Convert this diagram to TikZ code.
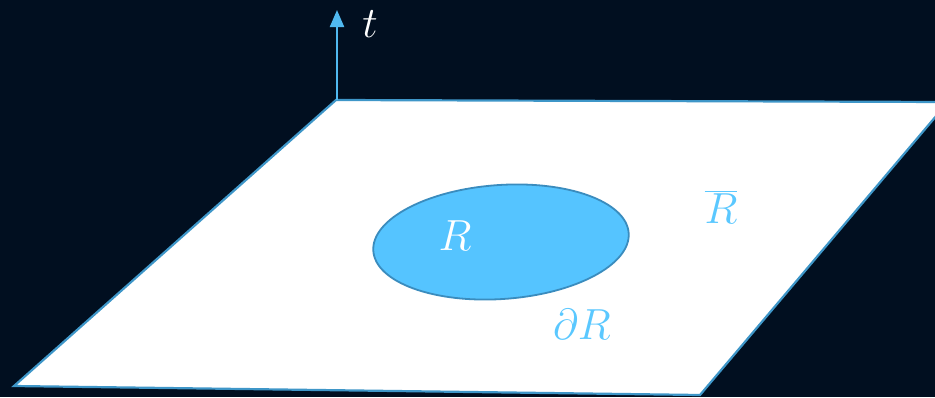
\documentclass[tikz,border=0pt]{standalone}
\usepackage{graphicx}
\usetikzlibrary{arrows.meta}
\definecolor{bgnavy}{RGB}{1,15,32}
\definecolor{edgeblue}{RGB}{62,150,200}
\definecolor{regfill}{RGB}{85,196,255}
\definecolor{regline}{RGB}{58,140,190}
\definecolor{axisblue}{RGB}{80,185,240}
\definecolor{lblblue}{RGB}{90,200,255}
\newcommand{\biglbl}[1]{\scalebox{1.75}{\Huge$#1$}}
\tikzset{
  plane/.style={fill=white, draw=edgeblue, line width=2.2pt, line join=miter},
  region/.style={fill=regfill, draw=regline, line width=1.8pt},
  axis/.style={draw=axisblue, line width=2.2pt, -{Triangle[width=14pt,length=17pt]}},
  lbl/.style={inner sep=0pt}
}
\begin{document}
\begin{tikzpicture}[x=1pt,y=-1pt]
\fill[bgnavy] (0,0) rectangle (935,397);
\useasboundingbox (0,0) rectangle (935,397);
\coordinate (p1) at (336,100);
\coordinate (p2) at (948,102);
\coordinate (p3) at (700,395);
\coordinate (p4) at (14,386);
\begin{scope}
\clip (0,0) rectangle (935,397);
\path[plane] (p1) -- (p2) -- (p3) -- (p4) -- cycle;
\end{scope}
\path[region] (501,242) ellipse [x radius=128, y radius=57, rotate=4];
\coordinate (tend) at (337,10);
\draw[axis] (p1) ++(1,0) coordinate (tstart) -- (tend);
\node[lbl, text=white] (tlbl) at (370,24) {\biglbl{t}};
\node[lbl, text=white] (rlbl) at (455,236) {\biglbl{R}};
\node[lbl, text=lblblue] (rbar) at (721,207) {\biglbl{\overline{R}}};
\node[lbl, text=lblblue] (drlbl) at (582,324) {\biglbl{\partial R}};
\end{tikzpicture}
\end{document}
